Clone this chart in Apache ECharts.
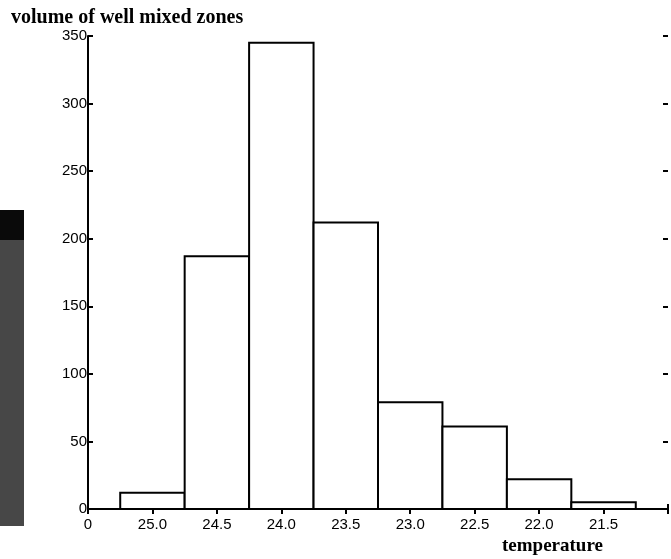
<!DOCTYPE html>
<html>
<head>
<meta charset="utf-8">
<script src="https://cdn.jsdelivr.net/npm/echarts@6/dist/echarts.min.js"></script>
<style>
  html, body { margin: 0; padding: 0; background: #fff; }
  #chart { width: 671px; height: 559px; }
</style>
</head>
<body>
<div id="chart"></div>
<script>
// bin centres (deg C) and volume in each bin
const binCenters = [25.0, 24.5, 24.0, 23.5, 23.0, 22.5, 22.0, 21.5];
const volumes = [12, 187, 345, 212, 79, 61, 22, 5];
const binWidth = 0.5;

const yTicks = [0, 50, 100, 150, 200, 250, 300, 350];
const xMin = 21.0;
const xMax = 25.5;

const chart = echarts.init(document.getElementById("chart"), null, { renderer: "canvas" });

const labelFont = "Liberation Sans";
const titleFont = "Liberation Serif";

function xLabel(v) {
  if (Math.abs(v - xMax) < 1e-6) return "0";
  if (Math.abs(v - xMin) < 1e-6) return "";
  return v.toFixed(1);
}

const axisLineStyle = { color: "#000", width: 2 };
const tickStyle = { show: true, inside: true, length: 5, lineStyle: { color: "#000", width: 2 } };

chart.setOption({
  backgroundColor: "#fff",
  animation: false,
  title: [
    {
      text: "volume of well mixed zones",
      left: 6,
      top: 3,
      textStyle: { fontFamily: titleFont, fontWeight: "bold", fontSize: 20, color: "#000" },
    },
    {
      text: "temperature",
      left: 497,
      top: 532,
      textStyle: { fontFamily: titleFont, fontWeight: "bold", fontSize: 19, color: "#000" },
    },
  ],
  graphic: [
    // scanner smudge along the left edge of the page
    { type: "rect", left: 0, top: 210, shape: { width: 24, height: 316 }, style: { fill: "#474747" }, silent: true },
    { type: "rect", left: 0, top: 210, shape: { width: 24, height: 30 }, style: { fill: "#0a0a0a" }, silent: true },
  ],
  grid: { left: 88, right: 0, top: 36, bottom: 50, containLabel: false },
  xAxis: [
    {
      type: "value",
      min: xMin,
      max: xMax,
      interval: binWidth,
      inverse: true,
      position: "bottom",
      splitLine: { show: false },
      axisLine: { show: true, lineStyle: axisLineStyle },
      axisTick: tickStyle,
      axisLabel: {
        color: "#000",
        fontFamily: labelFont,
        fontSize: 15,
        margin: 8,
        showMinLabel: true,
        showMaxLabel: true,
        formatter: xLabel,
      },
    },
    {
      type: "value",
      min: xMin,
      max: xMax,
      interval: binWidth,
      inverse: true,
      position: "top",
      splitLine: { show: false },
      axisLine: { show: true, lineStyle: axisLineStyle },
      axisTick: tickStyle,
      axisLabel: { show: false },
    },
  ],
  yAxis: [
    {
      type: "value",
      min: yTicks[0],
      max: yTicks[yTicks.length - 1],
      interval: yTicks[1] - yTicks[0],
      position: "left",
      splitLine: { show: false },
      axisLine: { show: true, lineStyle: axisLineStyle },
      axisTick: tickStyle,
      axisLabel: { color: "#000", fontFamily: labelFont, fontSize: 15, margin: 1 },
    },
    {
      type: "value",
      min: yTicks[0],
      max: yTicks[yTicks.length - 1],
      interval: yTicks[1] - yTicks[0],
      position: "right",
      splitLine: { show: false },
      axisLine: { show: false },
      axisTick: tickStyle,
      axisLabel: { show: false },
    },
  ],
  series: [
    {
      type: "custom",
      xAxisIndex: 0,
      yAxisIndex: 0,
      data: binCenters.map((c, i) => [c, volumes[i]]),
      renderItem: function (params, api) {
        const x = api.value(0);
        const y = api.value(1);
        const p0 = api.coord([x + binWidth / 2, y]);
        const p1 = api.coord([x - binWidth / 2, 0]);
        return {
          type: "rect",
          shape: { x: p0[0], y: p0[1], width: p1[0] - p0[0], height: p1[1] - p0[1] },
          style: { fill: "#fff", stroke: "#000", lineWidth: 2 },
        };
      },
    },
  ],
});
</script>
</body>
</html>
